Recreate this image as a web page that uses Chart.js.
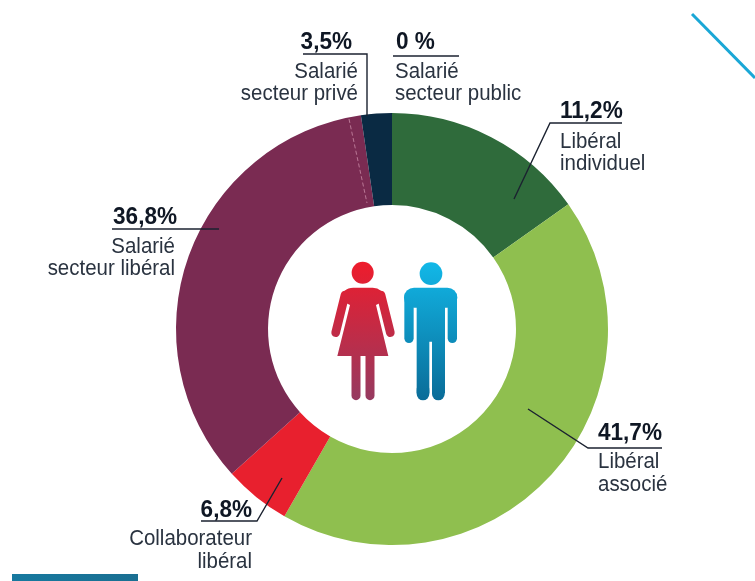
<!DOCTYPE html>
<html lang="fr">
<head>
<meta charset="utf-8">
<title>Répartition par statut</title>
<style>html,body{margin:0;padding:0;background:#fff}canvas{display:block}</style>
<script src="https://cdn.jsdelivr.net/npm/chart.js@4"></script>
</head>
<body>
<canvas id="c" width="755" height="581"></canvas>
<script>
// Categories, clockwise from twelve o'clock
const categories = ['Libéral individuel','Libéral associé','Collaborateur libéral','Salarié secteur libéral','Salarié secteur privé','Salarié secteur public'];
// Printed percentages
const printedValues = ['11,2%','41,7%','6,8%','36,8%','3,5%','0 %'];
// Slice sizes as measured on the drawn ring (the picture's slices differ from its printed numbers)
const drawnShares = [15.2, 43.1, 5.0, 34.4, 2.3, 0];
const sliceColors = ['#2f6b3b','#8fbf4f','#e8202e','#7a2b52','#0a2a43','#ffffff'];

const FONT = '"Liberation Sans",sans-serif';
const layout = [
  {i:0, pct:[560,118,'left'],  lines:[['Libéral',560,148,'left'],['individuel',560,170,'left']], path:[[622,123],[550,123],[514,199]]},
  {i:1, pct:[598,440,'left'],  lines:[['Libéral',598,468,'left'],['associé',598,491,'left']], path:[[662,448],[588,448],[528,409]]},
  {i:2, pct:[252,517,'right'], lines:[['Collaborateur',252,545,'right'],['libéral',252,568,'right']], path:[[201,521],[257,521],[282,478]]},
  {i:3, pct:[177,224,'right'], lines:[['Salarié',175,253,'right'],['secteur libéral',175,275,'right']], path:[[112,229],[219,229]]},
  {i:4, pct:[352,49,'right'],  lines:[['Salarié',358,78,'right'],['secteur privé',358,100,'right']], path:[[303,54],[367,54],[367,116]]},
  {i:5, pct:[396,49,'left'],   lines:[['Salarié',395,78,'left'],['secteur public',395,100,'left']], path:[[393,56],[459,56]]}
];

function line(ctx, pts, color, w, dash){
  ctx.save();ctx.beginPath();ctx.strokeStyle=color;ctx.lineWidth=w;ctx.lineCap='butt';
  if(dash)ctx.setLineDash(dash);
  pts.forEach((p,k)=>k?ctx.lineTo(p[0],p[1]):ctx.moveTo(p[0],p[1]));
  ctx.stroke();ctx.restore();
}
function narrowText(ctx,text,x,y,align,sx){
  ctx.save();ctx.translate(x,y);ctx.scale(sx,1);ctx.textAlign=align;ctx.fillText(text,0,0);ctx.restore();
}
function stickLine(ctx,a,b,c,d,w,color){
  ctx.beginPath();ctx.lineCap='round';ctx.lineWidth=w;ctx.strokeStyle=color;ctx.moveTo(a,b);ctx.lineTo(c,d);ctx.stroke();
}
function drawPeople(ctx){
  ctx.save();ctx.translate(320,250);ctx.scale(1/3,1/3);
  // woman
  let g=ctx.createLinearGradient(0,35,0,450);
  g.addColorStop(0,'#ee1c2c');g.addColorStop(1,'#963a60');
  ctx.fillStyle=g;
  ctx.beginPath();ctx.arc(128,68,33,0,Math.PI*2);ctx.fill();
  ctx.beginPath();
  ctx.moveTo(60,150);ctx.quadraticCurveTo(68,113,100,113);ctx.lineTo(158,113);ctx.quadraticCurveTo(188,113,198,150);
  ctx.lineTo(168,165);ctx.lineTo(205,318);ctx.lineTo(52,318);ctx.lineTo(90,165);ctx.closePath();ctx.fill();
  stickLine(ctx,75,135,47,248,26,g);
  stickLine(ctx,183,135,211,248,26,g);
  stickLine(ctx,108,310,108,437,27,g);
  stickLine(ctx,150,310,150,437,27,g);
  // man: one path so the torso and the legs join without a seam
  g=ctx.createLinearGradient(0,35,0,450);
  g.addColorStop(0,'#12b8e8');g.addColorStop(1,'#0a6c98');
  ctx.fillStyle=g;
  ctx.beginPath();ctx.arc(333,71,34,0,Math.PI*2);ctx.fill();
  ctx.beginPath();ctx.roundRect(252,113,160,60,30);ctx.fill();
  ctx.beginPath();
  ctx.moveTo(290,140);ctx.lineTo(375,140);ctx.lineTo(375,430);ctx.lineTo(336,430);
  ctx.lineTo(336,275);ctx.lineTo(328,275);ctx.lineTo(328,430);ctx.lineTo(290,430);ctx.closePath();ctx.fill();
  stickLine(ctx,267,140,267,265,28,g);
  stickLine(ctx,397,140,397,265,28,g);
  stickLine(ctx,309,420,309,432,38,g);
  stickLine(ctx,355,420,355,432,38,g);
  ctx.restore();
}
const annotations = {
  id:'annotations',
  afterDatasetsDraw(chart){
    const ctx=chart.ctx;
    // dashed seam inside the plum slice
    line(ctx,[[349,119],[367,203]],'#c98aa6',0.8,[4,2.5]);
    // decoration: cyan rule at top right, teal bar at bottom left
    line(ctx,[[692,14],[755,78]],'#1aa7d6',3);
    const bar=ctx.createLinearGradient(12,0,138,0);
    bar.addColorStop(0,'#17799f');bar.addColorStop(1,'#1a6f92');
    ctx.fillStyle=bar;ctx.fillRect(12,574,126,7);
    drawPeople(ctx);
    ctx.textBaseline='alphabetic';
    layout.forEach(l=>{
      line(ctx,l.path,'#1b2230',1.4);
      ctx.fillStyle='#0f1724';
      ctx.font='bold 24px '+FONT;
      narrowText(ctx,printedValues[l.i],l.pct[0],l.pct[1],l.pct[2],0.94);
      ctx.fillStyle='#2a3340';
      ctx.font='22px '+FONT;
      l.lines.forEach(t=>narrowText(ctx,t[0],t[1],t[2],t[3],0.93));
    });
  }
};
new Chart(document.getElementById('c'),{
  type:'doughnut',
  data:{labels:categories,datasets:[{data:drawnShares,backgroundColor:sliceColors,borderWidth:0}]},
  options:{
    responsive:false,animation:false,
    radius:216,cutout:'57.4%',rotation:0,
    layout:{padding:{left:29,top:77,right:0,bottom:0}},
    plugins:{legend:{display:false},tooltip:{enabled:false}}
  },
  plugins:[annotations]
});
</script>
</body>
</html>
